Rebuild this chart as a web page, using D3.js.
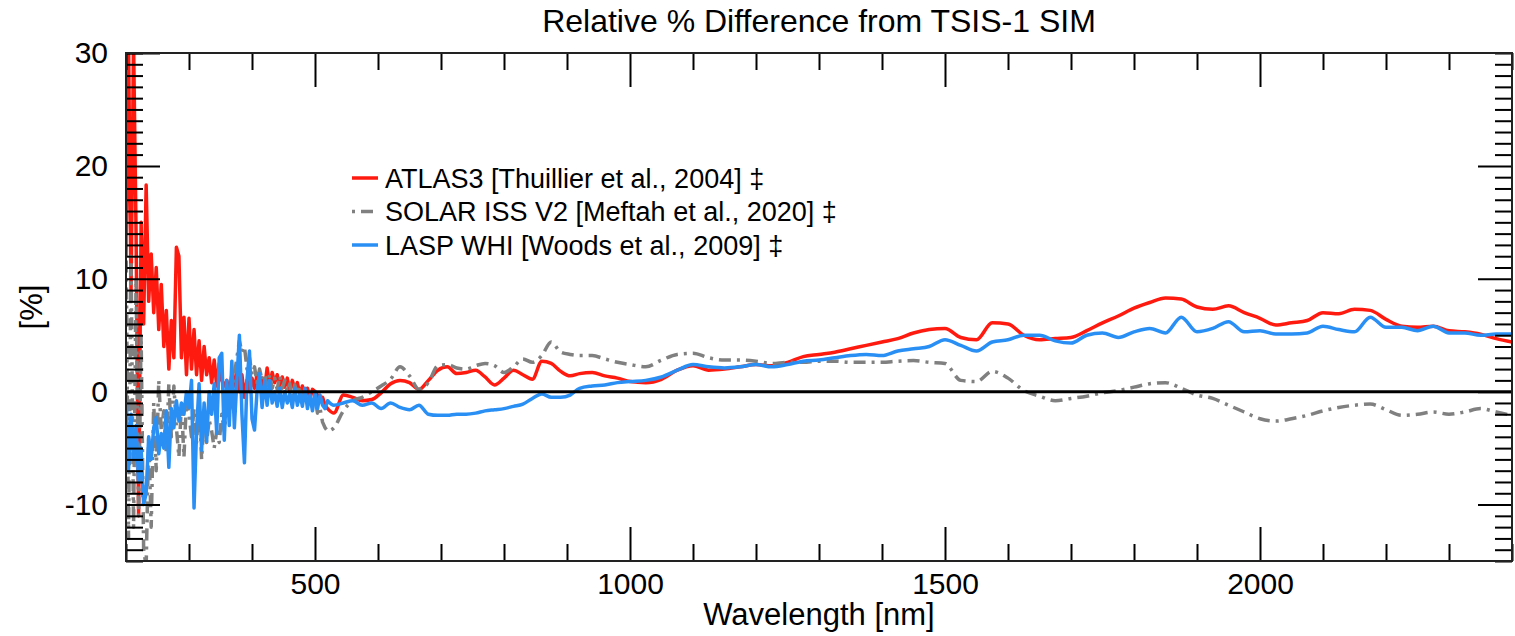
<!DOCTYPE html>
<html>
<head>
<meta charset="utf-8">
<script src="https://cdn.jsdelivr.net/npm/d3@7"></script>
<style>
  body { margin: 0; background: #fff; }
  text { font-family: "Liberation Sans", Arial, Helvetica, sans-serif; fill: #000; }
</style>
</head>
<body>
<svg id="chart" width="1515" height="636"></svg>
<script>
// wavelength grid, UV part (4 nm steps)
const uvWl = [
  200, 204, 208, 212, 216, 220, 224, 228, 232, 236,
  240, 244, 248, 252, 256, 260, 264, 268, 272, 276,
  280, 284, 288, 292, 296, 300, 304, 308, 312, 316,
  320, 324, 328, 332, 336, 340, 344, 348, 352, 356,
  360, 364, 368, 372, 376, 380, 384, 388, 392, 396,
  400, 404, 408, 412, 416, 420, 424, 428, 432, 436,
  440, 444, 448, 452, 456, 460, 464, 468, 472, 476,
  480, 484, 488, 492, 496, 500, 504, 508, 512, 516,
  520]

const atlasUv = [
  12, 31, 9, 31, 14, -11, 15, 6, 18.3, 8,
  12.2, 7, 11, 5.5, 9.5, 4, 7.2, 2, 6.3, 3,
  12.8, 12, 3, 6.6, 1.5, 6.5, 2, 5.5, 1.5, 4.5,
  1, 4, 1.5, 3, 0.8, 2.8, 0.5, 2.5, 1, 0.5,
  1, 0, 1.5, 0.5, 2, 0, 1.5, -0.5, 1, 0,
  1.2, 0.3, 1.5, 0.5, 1.2, 0.2, 2.1, 0.5, 1.7, 0.8,
  1.5, 0.5, 1.3, 0.4, 1.2, 0, 1, 0.2, 0.8, -0.3,
  0.5, -0.5, 0.3, -0.6, 0.2, 0, -0.3, -0.8, -0.5, -1.2,
  -1.5]

const issUv = [
  14, -13, 12, -12, 10, -11, 5, -14, -15.5, -4,
  -12, -1, -7, 1, -3.5, -1.7, -5.5, 0.7, -4, 0.5,
  -3.2, -5.8, -1, -5.8, -0.8, -2, -4, -1.5, -4.5, -0.8,
  -6, -2.5, -4.5, -2.5, -3.5, -5, -3.5, -4.5, -2, -3.5,
  -1.5, -2, 0, 1.5, 3, 4.5, 3.5, 4, 2, 3,
  1.5, 2.2, 0.8, 2, 1, 1.6, 0.5, 1.5, 0.3, 1.2,
  0.2, 1.4, 0.3, 1, 0, 0.7, -0.5, 0.6, -0.3, 0.5,
  -1, 0.2, -1.2, -0.3, -1.5, -0.6, -1.9, -1.5, -2.7, -3.2,
  -3.5]

const whiUv = [
  0, -7, -2, -6, -3, -8, -5, -10, -9, -4,
  -6, -3.2, -2.3, -5.5, -3.7, -5, -1.7, -6.7, -1.5, -3.2,
  -0.8, -2.6, -1, -2, 0, -1.4, 1, -10.3, -3.5, 0.7,
  -5.2, -1, -4.4, 0, -2, 0.7, -3.7, 3, 3.4, -4.3,
  1, -3, 2.7, -3.2, 1, 5, -2, -6.3, 1, 3.6,
  -2.4, -3.4, 0, 1.6, -1.4, 1, -1.2, 1, -1, 0,
  -1.3, 0.3, -1.4, 0, -1, -0.2, -1.4, 0.3, -1.2, -0.2,
  -1.3, 0.3, -1.5, -0.3, -1.7, 0, -1.5, -0.3, -1.2, -1.5,
  -0.8]

// wavelength grid, visible / IR part
const visWl = [
  530, 545, 560, 575, 590, 605, 620, 635, 650, 665,
  680, 695, 710, 725, 740, 755, 770, 785, 800, 815,
  830, 845, 860, 875, 890, 905, 920, 940, 960, 980,
  1000, 1025, 1050, 1075, 1100, 1125, 1150, 1175, 1200, 1225,
  1250, 1275, 1300, 1325, 1350, 1375, 1400, 1425, 1450, 1475,
  1500, 1525, 1550, 1575, 1600, 1625, 1650, 1675, 1700, 1725,
  1750, 1775, 1800, 1825, 1850, 1875, 1900, 1925, 1950, 1975,
  2000, 2025, 2050, 2075, 2100, 2125, 2150, 2175, 2200, 2225,
  2250, 2275, 2300, 2325, 2350, 2375, 2400]

const atlasVis = [
  -1.9, -0.3, -0.5, -0.8, -0.7, -0.1, 0.7, 1.0, 0.8, 0.2,
  1.0, 1.9, 2.2, 1.6, 1.7, 1.9, 1.3, 0.6, 1.2, 1.9,
  1.5, 1.1, 2.7, 2.5, 1.8, 1.4, 1.6, 1.7, 1.4, 1.2,
  0.9, 0.8, 1.1, 1.9, 2.3, 1.9, 2.0, 2.2, 2.4, 2.3,
  2.6, 3.1, 3.3, 3.5, 3.8, 4.1, 4.4, 4.7, 5.2, 5.5,
  5.6, 4.8, 4.6, 6.1, 6.0, 5.0, 4.6, 4.7, 4.8, 5.4,
  6.1, 6.7, 7.4, 7.9, 8.3, 8.2, 7.5, 7.3, 7.6, 7.0,
  6.5, 5.9, 6.1, 6.3, 7.0, 6.9, 7.3, 7.2, 6.4, 5.8,
  5.7, 5.8, 5.4, 5.3, 5.1, 4.7, 4.4]

const issVis = [
  -3.2, -1.7, -0.8, -0.5, 0.0, 0.5, 1.1, 2.2, 1.4, 0.2,
  0.8, 2.3, 2.4, 2.1, 2.0, 2.3, 2.5, 2.3, 1.7, 2.2,
  2.9, 2.6, 3.2, 4.4, 3.5, 3.3, 3.2, 3.2, 2.9, 2.6,
  2.4, 2.2, 2.8, 3.3, 3.4, 3.0, 2.8, 2.8, 2.7, 2.5,
  2.6, 2.6, 2.7, 2.7, 2.6, 2.6, 2.6, 2.7, 2.75, 2.6,
  2.5, 1.0, 0.9, 1.8, 1.2, 0.1, -0.4, -0.8, -0.6, -0.4,
  -0.1, 0.1, 0.4, 0.7, 0.8, 0.3, -0.3, -0.6, -1.2, -1.8,
  -2.4, -2.6, -2.4, -2.1, -1.7, -1.4, -1.2, -1.1, -1.6, -2.1,
  -2.0, -1.8, -2.0, -1.8, -1.5, -1.8, -2.1]

const whiVis = [
  -1.2, -1.0, -0.8, -1.2, -1.0, -1.5, -1.0, -1.4, -1.6, -1.2,
  -2.0, -2.1, -2.1, -2.0, -2.0, -1.9, -1.7, -1.6, -1.5, -1.3,
  -1.1, -0.6, -0.2, -0.5, -0.5, -0.3, 0.3, 0.5, 0.6, 0.8,
  0.9, 1.0, 1.3, 1.9, 2.4, 2.2, 2.1, 2.2, 2.4, 2.2,
  2.4, 2.7, 2.8, 3.0, 3.2, 3.3, 3.2, 3.6, 3.8, 4.0,
  4.6, 4.1, 3.6, 4.4, 4.6, 5.0, 5.0, 4.5, 4.3, 5.0,
  5.2, 4.8, 5.3, 5.6, 5.2, 6.6, 5.3, 5.6, 6.2, 5.3,
  5.4, 5.1, 5.1, 5.2, 5.8, 5.5, 5.3, 6.6, 5.7, 5.7,
  5.4, 5.8, 5.2, 5.2, 5.0, 5.1, 5.1]

const seriesNames = ["ATLAS3 [Thuillier et al., 2004] \u2021",
                     "SOLAR ISS V2 [Meftah et al., 2020] \u2021",
                     "LASP WHI [Woods et al., 2009] \u2021"]

const xMajor = [500, 1000, 1500, 2000]
const yMajor = [-10, 0, 10, 20]

const svg = d3.select("#chart")

const x = d3.scaleLinear().domain([200, 2400]).range([126, 1512])
const y = d3.scaleLinear().domain([-15, 30]).range([561, 53])

svg.append("defs").append("clipPath").attr("id", "plotclip")
  .append("rect")
  .attr("x", x(200)).attr("y", y(30))
  .attr("width", x(2400) - x(200)).attr("height", y(-15) - y(30))

let zip = (wl, v) => wl.map((w, i) => ({wl: w, v: v[i]}))

let series = [
  {name: seriesNames[0], uv: atlasUv, vis: atlasVis, color: "#ff1a10", dash: null},
  {name: seriesNames[1], uv: issUv, vis: issVis, color: "#808080", dash: "12,6,3,6"},
  {name: seriesNames[2], uv: whiUv, vis: whiVis, color: "#2a8ff5", dash: null}
]

// noisy UV part is drawn straight, the smooth part with a monotone curve
const lineUv = d3.line()
  .x(d => x(d.wl))
  .y(d => y(d.v))

const lineVis = d3.line()
  .x(d => x(d.wl))
  .y(d => y(d.v))
  .curve(d3.curveMonotoneX)

let plot_g = svg.append("g").attr("clip-path", "url(#plotclip)")

series.forEach(s => {
  let uvData = zip(uvWl, s.uv)
  let visData = [uvData[uvData.length - 1]].concat(zip(visWl, s.vis))
  let path_d = lineUv(uvData) + lineVis(visData).replace(/^M/, "L")
  plot_g.append("path")
    .attr("class", "series")
    .attr("d", path_d)
    .attr("fill", "none")
    .attr("stroke", s.color)
    .attr("stroke-width", 3.5)
    .attr("stroke-linejoin", "round")
    .attr("stroke-dasharray", s.dash)
})

// zero line
svg.append("line")
  .attr("x1", x(200)).attr("x2", x(2400))
  .attr("y1", y(0)).attr("y2", y(0))
  .attr("stroke", "#000").attr("stroke-width", 3)

// AXES (ticks point inward on all four sides)
const xMinor = d3.range(200, 2401, 100).filter(v => !xMajor.includes(v))
const yMinor = d3.range(-15, 31, 1).filter(v => !yMajor.includes(v))

let add_axis = function (axis, tx, ty) {
  let g = svg.append("g")
    .attr("transform", "translate(" + tx + "," + ty + ")")
    .call(axis)
  g.select(".domain").remove()
  g.selectAll("line").attr("stroke", "#000").attr("stroke-width", 2)
  return g
}

add_axis(d3.axisBottom(x).tickValues(xMinor).tickSize(-17).tickFormat(""), 0, y(-15))
add_axis(d3.axisTop(x).tickValues(xMinor).tickSize(-17).tickFormat(""), 0, y(30))
add_axis(d3.axisTop(x).tickValues(xMajor).tickSize(-34).tickFormat(""), 0, y(30))
add_axis(d3.axisLeft(y).tickValues(yMinor).tickSize(-17).tickFormat(""), x(200), 0)
add_axis(d3.axisRight(y).tickValues(yMinor).tickSize(-17).tickFormat(""), x(2400), 0)
add_axis(d3.axisRight(y).tickValues(yMajor).tickSize(-34).tickFormat(""), x(2400), 0)

let xax = add_axis(d3.axisBottom(x).tickValues(xMajor).tickSize(-34).tickPadding(12).tickFormat(d => String(d)), 0, y(-15))
xax.selectAll("text").style("font-size", "30px").style("font-family", null)

let yax = add_axis(d3.axisLeft(y).tickValues([-10, 0, 10, 20, 30]).tickSize(-34).tickPadding(18).tickFormat(d => String(d)), x(200), 0)
yax.selectAll("text").style("font-size", "30px").style("font-family", null)
// END AXES

// frame
svg.append("rect")
  .attr("x", x(200)).attr("y", y(30))
  .attr("width", x(2400) - x(200)).attr("height", y(-15) - y(30))
  .attr("fill", "none").attr("stroke", "#222").attr("stroke-width", 2)

// titles
svg.append("text")
  .text("Relative % Difference from TSIS-1 SIM")
  .attr("x", (x(200) + x(2400)) / 2).attr("y", 32)
  .style("text-anchor", "middle").style("font-size", "32px")

svg.append("text")
  .text("Wavelength [nm]")
  .attr("x", (x(200) + x(2400)) / 2).attr("y", 625)
  .style("text-anchor", "middle").style("font-size", "31px")

svg.append("text")
  .text("[%]")
  .attr("transform", "translate(42," + ((y(30) + y(-15)) / 2) + ") rotate(-90)")
  .style("text-anchor", "middle").style("font-size", "31px")

// legend
let legend_g = svg.append("g").attr("transform", "translate(352,178)")

series.forEach((s, i) => {
  let row = legend_g.append("g").attr("transform", "translate(0," + (i * 33.5) + ")")
  row.append("line")
    .attr("x1", 0).attr("x2", 26).attr("y1", 0).attr("y2", 0)
    .attr("stroke", s.color).attr("stroke-width", 3.5)
    .attr("stroke-dasharray", s.dash)
    .attr("stroke-dashoffset", s.dash ? 18 : null)
  row.append("text")
    .text(s.name)
    .attr("x", 33).attr("y", 0).attr("dy", "0.36em")
    .style("font-size", "27px")
})
</script>
</body>
</html>
